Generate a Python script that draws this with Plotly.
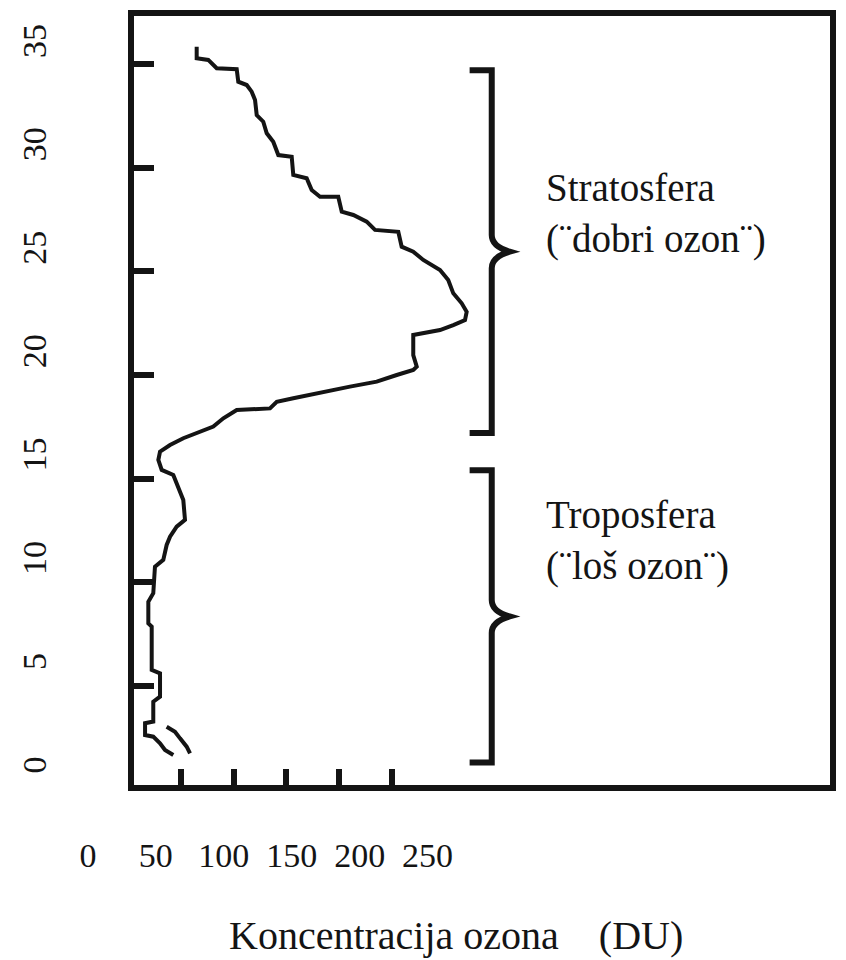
import plotly.graph_objects as go

# Ozone profile: concentration (DU) vs altitude (km)
ozone_du = [64.9, 64.9, 75.9, 83.9, 102.9, 104.4, 112.4, 117.1, 120.3, 121.9,
            128.1, 131.4, 137.6, 142.4, 155.1, 156.6, 169.3, 174.1, 182.0, 199.3,
            202.6, 213.6, 226.3, 234.2, 256.3, 259.5, 270.5, 280.0, 295.9, 303.7,
            308.5, 316.5, 321.2, 319.6, 308.5, 295.9, 270.5, 270.5, 273.8, 270.5,
            254.8, 235.8, 210.4, 182.0, 156.6, 140.9, 134.5, 102.9, 90.2, 80.7,
            68.1, 52.2, 39.6, 30.1, 28.5, 31.7, 42.7, 47.5, 52.2, 53.8,
            45.9, 39.6, 36.4, 33.2, 25.3, 23.7, 19.0, 19.0, 22.2, 22.2,
            30.1, 30.1, 23.7, 23.7, 15.9, 15.9, 23.7, 30.1, 34.8, 42.7]
altitude_km = [35.84, 35.28, 35.20, 34.80, 34.75, 34.15, 33.99, 33.67, 33.27, 32.54,
               32.22, 31.66, 31.25, 30.61, 30.53, 29.65, 29.49, 28.92, 28.60, 28.60,
               27.88, 27.72, 27.40, 27.00, 26.91, 26.19, 25.95, 25.55, 25.07, 24.58,
               23.94, 23.46, 23.05, 22.65, 22.41, 22.17, 21.93, 20.96, 20.40, 20.24,
               20.00, 19.68, 19.44, 19.12, 18.88, 18.71, 18.39, 18.31, 17.91, 17.51,
               17.27, 16.95, 16.62, 16.30, 15.90, 15.42, 15.18, 14.61, 13.97, 13.01,
               12.68, 12.20, 11.80, 11.08, 10.75, 9.47, 9.06, 8.02, 7.86, 5.77,
               5.61, 4.48, 4.24, 3.28, 3.20, 2.63, 2.55, 2.23, 1.91, 1.67]

# short second stroke near the ground
ozone_low = [36.4, 44.3, 49.1, 55.4, 58.6]
altitude_low = [3.03, 2.79, 2.47, 2.07, 1.75]

# ticks and their (separately typeset) labels
x_ticks = [50, 100, 150, 200, 250]
x_labels = [0, 50, 100, 150, 200, 250]
y_ticks = [5, 10, 15, 20, 25, 30, 35]
y_labels = [0, 5, 10, 15, 20, 25, 30, 35]

# atmosphere layers marked with braces
layer_names = ["Stratosfera", "Troposfera"]
layer_notes = ["(\u00a8dobri ozon\u00a8)", "(\u00a8lo\u0161 ozon\u00a8)"]
layer_bottom = [17.2, 1.3]
layer_top = [34.7, 15.4]

INK = "#141414"
FONT = "Liberation Serif"
OFF = 8                      # the page body adds an 8 px margin
W, H = 846 - OFF, 960 - OFF


def px_x(p):
    return (p - OFF) / W


def px_y(p):
    return 1 - (p - OFF) / H


# brace geometry (DU) and text placement
BRACE_X, HOOK_X, TIP_X = 345, 324, 362
TEXT_X = 395
TEXT_Y = [27.8, 12.0]

fig = go.Figure()
fig.add_trace(go.Scatter(x=ozone_du, y=altitude_km, mode="lines",
                         line=dict(color=INK, width=4), showlegend=False))
fig.add_trace(go.Scatter(x=ozone_low, y=altitude_low, mode="lines",
                         line=dict(color=INK, width=4), showlegend=False))
# carrier trace for the label axes
fig.add_trace(go.Scatter(x=[None], y=[None], xaxis="x2", yaxis="y2",
                         showlegend=False, hoverinfo="skip"))


def brace_path(y0, y1):
    mid = (y0 + y1) / 2
    d = 0.8
    return (f"M {HOOK_X},{y1} L {BRACE_X},{y1} L {BRACE_X},{mid + d} "
            f"Q {BRACE_X},{mid + 0.25} {TIP_X},{mid} "
            f"Q {BRACE_X},{mid - 0.25} {BRACE_X},{mid - d} "
            f"L {BRACE_X},{y0} L {HOOK_X},{y0}")


for i in range(len(layer_names)):
    fig.add_shape(type="path", xref="x", yref="y",
                  path=brace_path(layer_bottom[i], layer_top[i]),
                  line=dict(color=INK, width=6))
    fig.add_annotation(x=TEXT_X, y=TEXT_Y[i], xref="x", yref="y",
                       text=layer_names[i] + "<br>" + layer_notes[i],
                       showarrow=False, xanchor="left", yanchor="middle",
                       align="left", font=dict(family=FONT, size=39, color=INK))

fig.add_annotation(x=px_x(456), y=px_y(935), xref="paper", yref="paper",
                   text="Koncentracija ozona\u00a0\u00a0\u00a0\u00a0(DU)",
                   showarrow=False, xanchor="center", yanchor="middle",
                   font=dict(family=FONT, size=40, color=INK))

frame = dict(showline=True, linewidth=6, linecolor=INK, mirror=True,
             showgrid=False, zeroline=False, showticklabels=False,
             ticks="inside", tickwidth=6, tickcolor=INK)

# label axes span the whole page; their scales put the labels where the scan has them
LX_ORIGIN, LX_SCALE = 87.9, 1.3588     # screen px of label "0", px per DU
LY_ORIGIN, LY_SCALE = 770.0, 20.686    # screen px of label "0", px per km
lx0, lx1 = (OFF - LX_ORIGIN) / LX_SCALE, (W + OFF - LX_ORIGIN) / LX_SCALE
ly0, ly1 = (LY_ORIGIN - (H + OFF)) / LY_SCALE, (LY_ORIGIN - OFF) / LY_SCALE

fig.update_layout(
    width=W, height=H,
    margin=dict(l=0, r=0, t=0, b=0),
    paper_bgcolor="white",
    plot_bgcolor="rgba(0,0,0,0)",
    showlegend=False,
    xaxis=dict(domain=[px_x(134), px_x(830)], range=[5.4, 666.1],
               tickvals=x_ticks, ticklen=16, anchor="y", **frame),
    yaxis=dict(domain=[px_y(785), px_y(16)], range=[0.22, 37.32],
               tickvals=y_ticks, ticklen=20, anchor="x", **frame),
    xaxis2=dict(domain=[0, 1], range=[lx0, lx1], anchor="free",
                position=px_y(832), side="bottom",
                tickvals=x_labels, ticktext=[str(v) for v in x_labels],
                ticks="", showline=False, showgrid=False, zeroline=False,
                tickfont=dict(family=FONT, size=34, color=INK)),
    yaxis2=dict(domain=[0, 1], range=[ly0, ly1], anchor="free",
                position=px_x(53), side="left", tickangle=-90,
                tickvals=y_labels, ticktext=[str(v) for v in y_labels],
                ticks="", showline=False, showgrid=False, zeroline=False,
                tickfont=dict(family=FONT, size=34, color=INK)),
)

fig.write_html("out.html")
